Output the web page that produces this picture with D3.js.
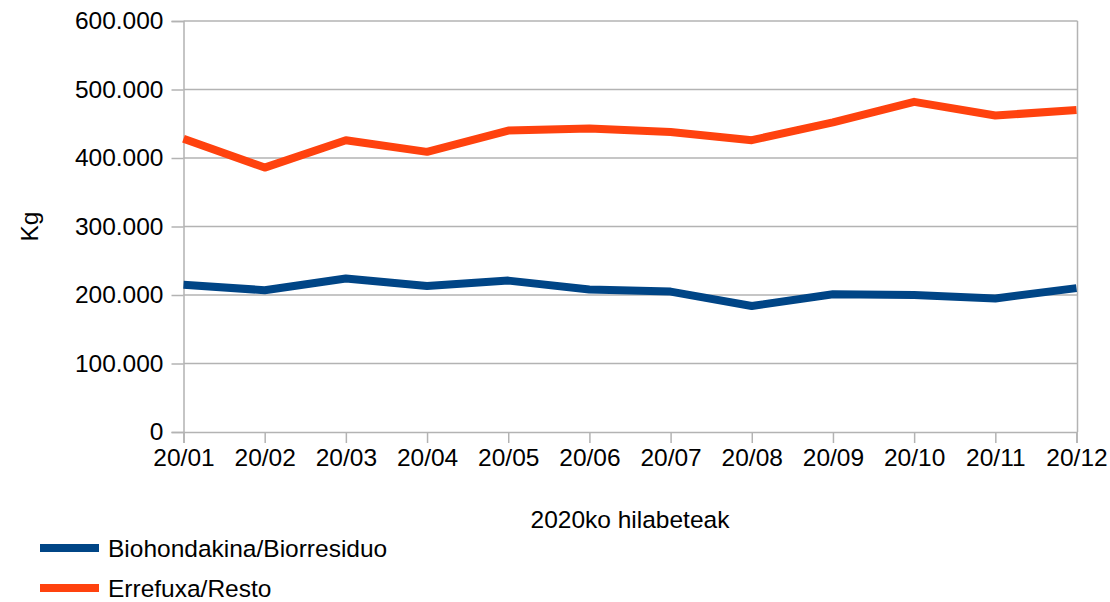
<!DOCTYPE html>
<html>
<head>
<meta charset="utf-8">
<script src="https://cdn.jsdelivr.net/npm/d3@7"></script>
<style>
  body { margin: 0; background: #fff; }
  text { font-family: "Liberation Sans", Arial, sans-serif; }
</style>
</head>
<body>
<svg id="chart" width="1110" height="602"></svg>
<script>
var months = ["20/01", "20/02", "20/03", "20/04", "20/05", "20/06",
	"20/07", "20/08", "20/09", "20/10", "20/11", "20/12"];
var bio = [215000, 207000, 224000, 213000, 221000, 208000,
	205000, 184000, 201000, 200000, 195000, 210000];
var resto = [428000, 386000, 426000, 409000, 440000, 443000,
	438000, 426000, 452000, 482000, 462000, 470000];
var yTicks = [0, 100000, 200000, 300000, 400000, 500000, 600000];
var seriesNames = ["Biohondakina/Biorresiduo", "Errefuxa/Resto"];
var seriesColors = ["#004586", "#ff420e"];

var svg = d3.select("#chart");
var plotL = 183.5, plotR = 1076.5, plotT = 21, plotB = 432;

var x = d3.scalePoint().domain(months).range([plotL, plotR]);
var y = d3.scaleLinear().domain([0, 600000]).range([plotB, plotT]);

var locale = d3.formatLocale({ decimal: ",", thousands: ".", grouping: [3], currency: ["", ""] });
var fmt = locale.format(",d");

// grid
svg.append("g").selectAll("line")
	.data(yTicks.slice(1))
	.enter().append("line")
	.attr("x1", plotL).attr("x2", plotR + 1)
	.attr("y1", function(d) { return y(d); })
	.attr("y2", function(d) { return y(d); })
	.attr("stroke", "#b3b3b3")
	.attr("stroke-width", 1.5);

// right border
svg.append("line")
	.attr("x1", plotR + 1).attr("x2", plotR + 1)
	.attr("y1", plotT).attr("y2", plotB)
	.attr("stroke", "#b3b3b3").attr("stroke-width", 1.5);

// y axis
var yAxis = svg.append("g")
	.attr("transform", "translate(" + plotL + ",0)")
	.call(d3.axisLeft(y).tickValues(yTicks).tickFormat(fmt).tickSize(12).tickPadding(8));
yAxis.select(".domain").attr("stroke", "#b3b3b3").attr("stroke-width", 1.5);
yAxis.selectAll(".tick line").attr("stroke", "#b3b3b3").attr("stroke-width", 1.5);
yAxis.selectAll("text").attr("font-size", 24.5).attr("fill", "#000")
	.attr("font-family", "Liberation Sans, Arial, sans-serif");

// x axis
var xAxis = svg.append("g")
	.attr("transform", "translate(0," + plotB + ")")
	.call(d3.axisBottom(x).tickSize(11).tickPadding(6));
xAxis.select(".domain").attr("stroke", "#b3b3b3").attr("stroke-width", 1.5);
xAxis.selectAll(".tick line").attr("stroke", "#b3b3b3").attr("stroke-width", 1.5);
xAxis.selectAll("text").attr("font-size", 24.5).attr("fill", "#000")
	.attr("font-family", "Liberation Sans, Arial, sans-serif");

// lines (straight segments, like the source)
var line = d3.line()
	.x(function(d, i) { return x(months[i]); })
	.y(function(d) { return y(d); });

[bio, resto].forEach(function(s, i) {
	svg.append("path")
		.attr("d", line(s))
		.attr("fill", "none")
		.attr("stroke", seriesColors[i])
		.attr("stroke-width", 8)
		.attr("stroke-linejoin", "round");
});

// axis titles
svg.append("text")
	.attr("transform", "translate(38," + ((plotT + plotB) / 2) + ") rotate(-90)")
	.attr("text-anchor", "middle")
	.attr("font-size", 24.5)
	.attr("fill", "#000")
	.text("Kg");

svg.append("text")
	.attr("x", (plotL + plotR) / 2)
	.attr("y", 528)
	.attr("text-anchor", "middle")
	.attr("font-size", 24.5)
	.attr("fill", "#000")
	.text("2020ko hilabeteak");

// legend
var legend = svg.append("g");
seriesNames.forEach(function(name, i) {
	var ly = 548 + i * 40;
	legend.append("line")
		.attr("x1", 40).attr("x2", 99)
		.attr("y1", ly).attr("y2", ly)
		.attr("stroke", seriesColors[i])
		.attr("stroke-width", 8);
	legend.append("text")
		.attr("x", 108)
		.attr("y", ly)
		.attr("dominant-baseline", "central")
		.attr("font-size", 24.5)
		.attr("fill", "#000")
		.text(name);
});
</script>
</body>
</html>
